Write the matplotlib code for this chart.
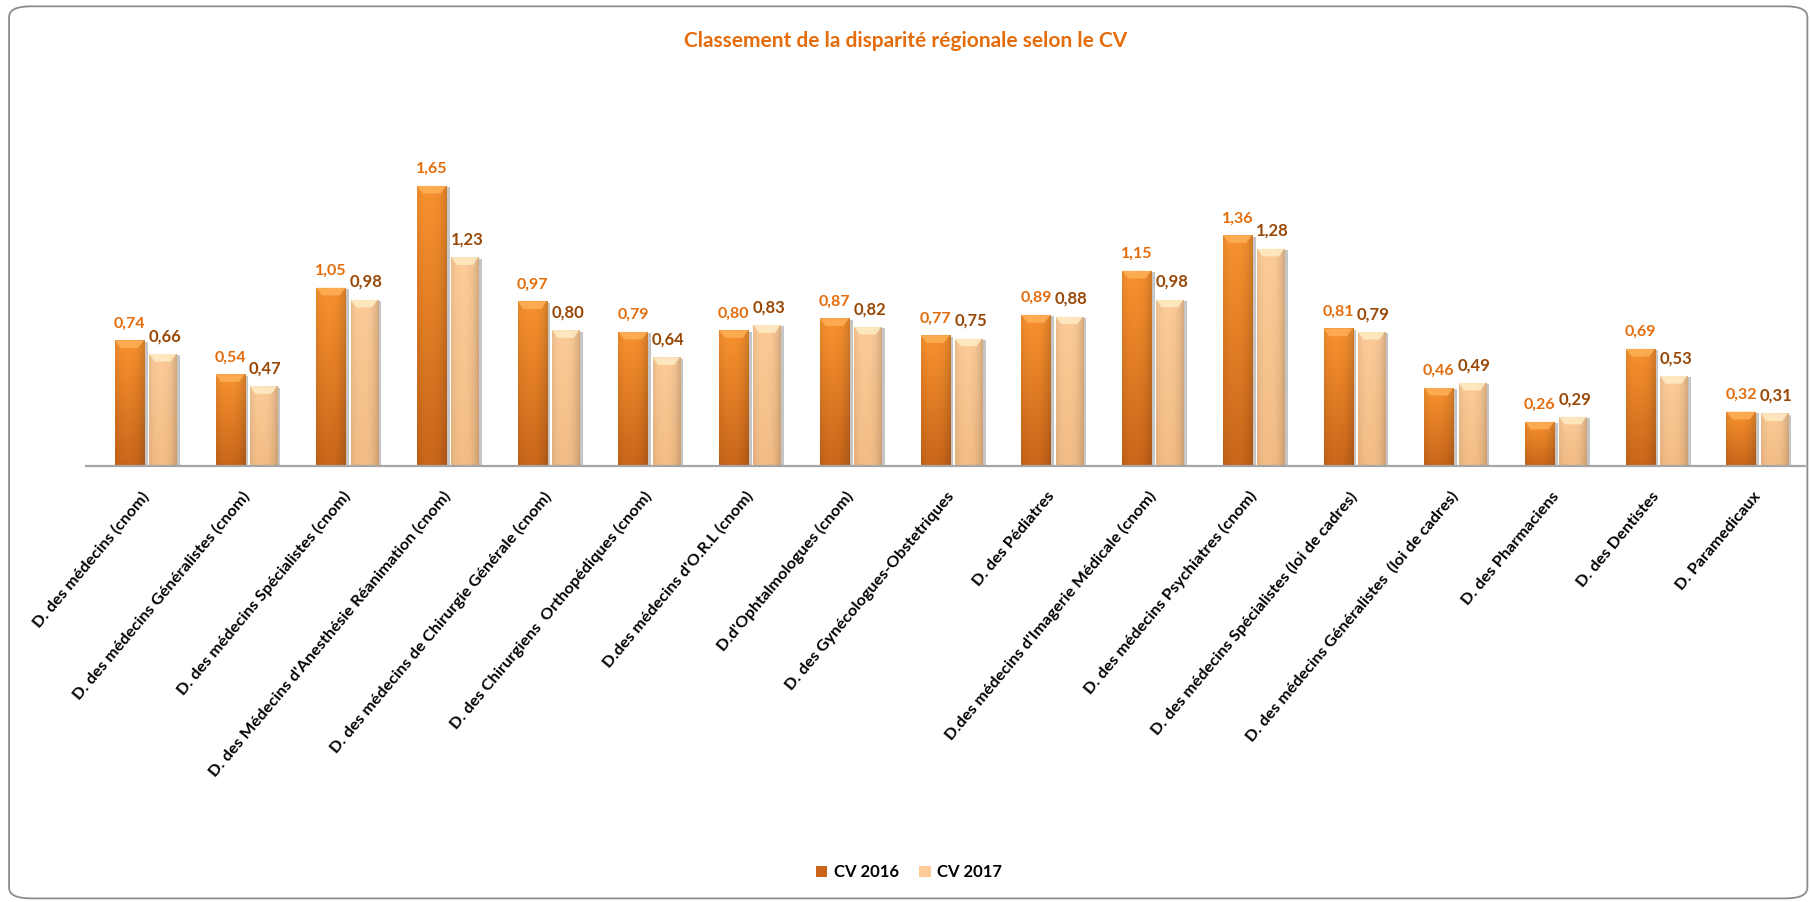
import numpy as np
import matplotlib.pyplot as plt
from matplotlib import patheffects as pe
from matplotlib.patches import FancyBboxPatch, Polygon, Patch

plt.rcParams['font.family'] = ['Lato', 'DejaVu Sans']

categories = [
    "D. des médecins (cnom)",
    "D. des médecins Généralistes (cnom)",
    "D. des médecins Spécialistes (cnom)",
    "D. des Médecins d'Anesthésie Réanimation (cnom)",
    "D. des médecins de Chirurgie Générale (cnom)",
    "D. des Chirurgiens  Orthopédiques (cnom)",
    "D.des médecins d'O.R.L (cnom)",
    "D.d'Ophtalmologues (cnom)",
    "D. des Gynécologues-Obstetriques",
    "D. des Pédiatres",
    "D.des médecins d'Imagerie Médicale (cnom)",
    "D. des médecins Psychiatres (cnom)",
    "D. des médecins Spécialistes (loi de cadres)",
    "D. des médecins Généralistes  (loi de cadres)",
    "D. des Pharmaciens",
    "D. des Dentistes",
    "D. Paramedicaux",
]
cv_2016 = [0.74, 0.54, 1.05, 1.65, 0.97, 0.79, 0.80, 0.87, 0.77, 0.89, 1.15, 1.36, 0.81, 0.46, 0.26, 0.69, 0.32]
cv_2017 = [0.66, 0.47, 0.98, 1.23, 0.80, 0.64, 0.83, 0.82, 0.75, 0.88, 0.98, 1.28, 0.79, 0.49, 0.29, 0.53, 0.31]

# colours: (top, bottom, bevel) for each series
orange = ('#F8922F', '#C9661A', '#FFB25A')
beige = ('#FCCB98', '#F2BC86', '#FFEFC8')
lab_2016 = '#E46C0A'
lab_2017 = '#984807'

fig = plt.figure(figsize=(18.11, 9.02), dpi=100)
ax = fig.add_axes([0.0475, 0.4834, 0.9492, 0.3387])

x = np.arange(len(categories))
w16, w17 = 0.29, 0.27
off = 0.165

shadow = [pe.SimplePatchShadow(offset=(2.5, -1), shadow_rgbFace='#808080', alpha=0.45), pe.Normal()]
b16 = ax.bar(x - off, cv_2016, w16, color=orange[1], path_effects=shadow, zorder=2)
b17 = ax.bar(x + off, cv_2017, w17, color=beige[1], path_effects=shadow, zorder=2)

ax.set_xlim(-0.596, 16.47)
ax.set_ylim(0, 1.8)


def shade(bars, cols):
    top = np.array(plt.matplotlib.colors.to_rgb(cols[0]))
    bot = np.array(plt.matplotlib.colors.to_rgb(cols[1]))
    bev = cols[2]
    u = np.linspace(0, 1, 40)
    edge = 1 - 0.16 * (np.abs(u - 0.42) / 0.58) ** 2.5
    for r in bars:
        x0, y0 = r.get_x(), r.get_y()
        bw, bh = r.get_width(), r.get_height()
        v = np.linspace(0, 1, 60)[:, None, None]
        img = (top * (1 - v) + bot * v) * edge[None, :, None]
        im = ax.imshow(np.clip(img, 0, 1), extent=(x0, x0 + bw, y0, y0 + bh),
                       aspect='auto', origin='upper', zorder=3, interpolation='bilinear')
        im.set_clip_path(r)
        # bevel on top of the bar
        h = min(0.045, bh * 0.3)
        d = bw * 0.2
        ax.add_patch(Polygon([(x0, y0 + bh), (x0 + bw, y0 + bh), (x0 + bw - d, y0 + bh - h),
                              (x0 + d, y0 + bh - h)], closed=True, fc=bev, ec='none',
                             alpha=0.8, zorder=4))


shade(b16, orange)
shade(b17, beige)

for r, v in zip(b16, cv_2016):
    ax.annotate(f"{v:.2f}".replace('.', ','), (r.get_x() + r.get_width() / 2, v),
                xytext=(0, 7), textcoords='offset points', ha='center', va='bottom',
                fontsize=11.5, fontweight='bold', color=lab_2016)
for r, v in zip(b17, cv_2017):
    ax.annotate(f"{v:.2f}".replace('.', ','), (r.get_x() + r.get_width() / 2 + 0.02, v),
                xytext=(0, 7), textcoords='offset points', ha='center', va='bottom',
                fontsize=12, fontweight='bold', color=lab_2017)

for s in ['top', 'right', 'left']:
    ax.spines[s].set_visible(False)
ax.spines['bottom'].set_color('#A6A6A6')
ax.spines['bottom'].set_linewidth(1.6)
ax.spines['bottom'].set_zorder(5)
ax.set_yticks([])
ax.set_xticks(x)
ax.set_xticklabels(categories, rotation=50, ha='right', va='center',
                   rotation_mode='anchor', fontsize=11.8, fontweight='bold')
ax.tick_params(axis='x', length=0, pad=20)
ax.set_facecolor('none')

fig.text(0.5, 0.955, "Classement de la disparité régionale selon le CV", ha='center', va='center',
         fontsize=15, fontweight='bold', color='#E46C0A')

handles = [Patch(facecolor=orange[1], edgecolor='none'), Patch(facecolor=beige[0], edgecolor='none')]
fig.legend(handles, ['CV 2016', 'CV 2017'], loc='center', bbox_to_anchor=(0.502, 0.033), ncol=2,
           frameon=False, handlelength=0.7, handleheight=0.7, handletextpad=0.4, columnspacing=1.2,
           prop={'weight': 'bold', 'size': 12})

fig.patches.append(FancyBboxPatch((0.005, 0.004), 0.993, 0.989, boxstyle='round,pad=0,rounding_size=0.012',
                                  transform=fig.transFigure, fc='none', ec='#8C8C8C', lw=1.3))

fig.savefig('out.png', dpi=100, facecolor='white')
